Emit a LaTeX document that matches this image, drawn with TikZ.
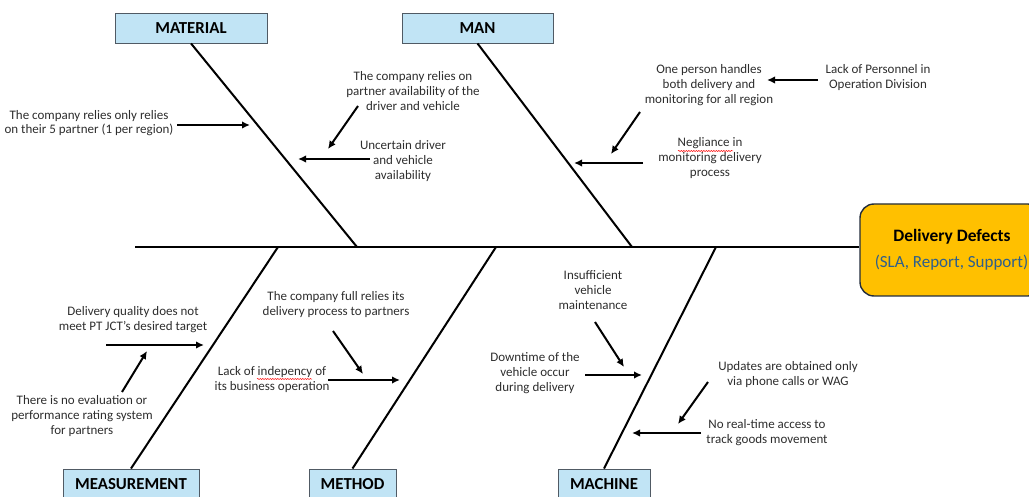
\documentclass[tikz,border=0pt]{standalone}
\usepackage{fontspec}
\setmainfont{Carlito}
\usetikzlibrary{arrows.meta,decorations.pathmorphing}
\definecolor{catfill}{RGB}{193,228,245}
\definecolor{catline}{RGB}{80,90,100}
\definecolor{headfill}{RGB}{255,192,0}
\definecolor{headline}{RGB}{35,45,60}
\definecolor{headsub}{RGB}{46,95,140}
\definecolor{txt}{RGB}{45,45,45}
\tikzset{
  catbox/.style={draw=catline, line width=0.9pt, fill=catfill, minimum height=30pt, inner sep=0pt,
    font=\fontsize{16.8}{19}\selectfont\bfseries, text=black},
  bone/.style={line width=2pt, black},
  cause/.style={align=center, inner sep=0pt, text=txt, font=\fontsize{13}{15}\selectfont},
  cause arrow/.style={line width=2pt, -{Latex[length=8pt,width=7.5pt]}},
  spell/.style={red, line width=0.5pt, decorate, decoration={snake, amplitude=0.6pt, segment length=2.5pt}}
}
\begin{document}
\begin{tikzpicture}[x=1pt,y=-1pt]
\useasboundingbox (0,0) rectangle (1029,497);
% head
\node[draw=headline, line width=1.4pt, fill=headfill, rounded corners=14pt,
      minimum width=182pt, minimum height=92pt, inner sep=0pt] (head) at (951,250) {};
\node[font=\fontsize{17.4}{19}\selectfont\bfseries, text=black, inner sep=0pt] (headt) at (952,237) {Delivery Defects};
\node[font=\fontsize{17}{19}\selectfont, text=headsub, inner sep=0pt] (heads) at (951.5,263) {(SLA, Report, Support)};
% spine
\coordinate (tail) at (135,247);
\draw[line width=2.5pt] (tail) -- (head.west |- 0,247);
% category boxes
\node[catbox, minimum width=152pt] (material) at (191,28) {MATERIAL};
\node[catbox, minimum width=151pt] (man) at (477.5,28) {MAN};
\node[catbox, minimum width=136pt] (measure) at (131,484) {MEASUREMENT};
\node[catbox, minimum width=87pt] (method) at (352.5,484) {METHOD};
\node[catbox, minimum width=92pt] (machine) at (604,484) {MACHINE};
% bone joints on spine
\coordinate (jmat) at (357,247);
\coordinate (jman) at (632,247);
\coordinate (jmea) at (278,247);
\coordinate (jmet) at (496,247);
\coordinate (jmac) at (716,247);
\draw[bone] (material.south) -- (jmat);
\draw[bone] (man.south) -- (jman);
\draw[bone] (measure.north) -- (jmea);
\draw[bone] (method.north) -- (jmet);
\draw[bone] (machine.north) -- (jmac);
% causes: material
\node[cause, font=\fontsize{13}{13.5}\selectfont] (c1) at (89,123) {The company relies only relies\\on their 5 partner (1 per region)};
\node[cause] (c2) at (413,91) {The company relies on\\partner availability of the\\driver and vehicle};
\node[cause] (c3) at (403,161) {Uncertain driver\\and vehicle\\availability};
% causes: man
\node[cause] (c4) at (709,85) {One person handles\\both delivery and\\monitoring for all region};
\node[cause] (c5) at (878,77.5) {Lack of Personnel in\\Operation Division};
\node[cause] (c6) at (710,158) {Negliance in\\monitoring delivery\\process};
% causes: measurement
\node[cause] (c7) at (133,319.5) {Delivery quality does not\\meet PT JCT's desired target};
\node[cause] (c8) at (82,416) {There is no evaluation or\\performance rating system\\for partners};
% causes: method
\node[cause] (c9) at (336,304.5) {The company full relies its\\delivery process to partners};
\node[cause] (c10) at (272,380) {Lack of indepency of\\its business operation};
% causes: machine
\node[cause] (c11) at (593,290) {Insufficient\\vehicle\\maintenance};
\node[cause] (c12) at (535,373) {Downtime of the\\vehicle occur\\during delivery};
\node[cause] (c13) at (788,374.5) {Updates are obtained only\\via phone calls or WAG};
\node[cause] (c14) at (767,432.5) {No real-time access to\\track goods movement};
% spell-check underlines
\coordinate (s1a) at (678,151); \coordinate (s1b) at (733,151);
\coordinate (s2a) at (257,379); \coordinate (s2b) at (312,379);
\draw[spell] (s1a) -- (s1b);
\draw[spell] (s2a) -- (s2b);
% arrow coordinates
\coordinate (a1s) at (177,125); \coordinate (a1e) at (250,125);
\coordinate (a2s) at (358,106); \coordinate (a2e) at (328,149);
\coordinate (a3s) at (370,159); \coordinate (a3e) at (298,159);
\coordinate (a4s) at (818,80);  \coordinate (a4e) at (767,80);
\coordinate (a5s) at (640,112); \coordinate (a5e) at (611,154);
\coordinate (a6s) at (643,163); \coordinate (a6e) at (574,163);
\coordinate (a7s) at (106,345); \coordinate (a7e) at (204,345);
\coordinate (a8s) at (122,392); \coordinate (a8e) at (147,351);
\coordinate (a9s) at (333,331); \coordinate (a9e) at (363,374);
\coordinate (a10s) at (328,380); \coordinate (a10e) at (400,380);
\coordinate (a11s) at (595,322); \coordinate (a11e) at (624,367);
\coordinate (a12s) at (585,375); \coordinate (a12e) at (642,375);
\coordinate (a13s) at (708,382); \coordinate (a13e) at (678,424);
\coordinate (a14s) at (701,433); \coordinate (a14e) at (632,433);
\foreach \i in {1,...,14}{\draw[cause arrow] (a\i s) -- (a\i e);}
\end{tikzpicture}
\end{document}
